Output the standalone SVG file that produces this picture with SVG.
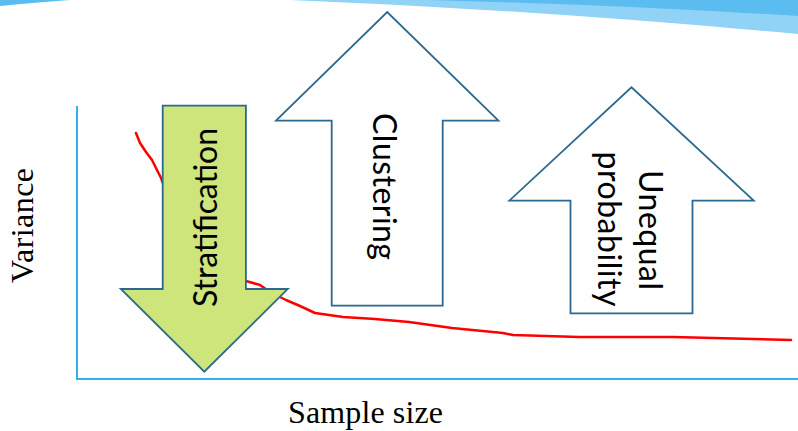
<svg xmlns="http://www.w3.org/2000/svg" width="798" height="431" viewBox="0 0 798 431">
  <style>
    .arrow { stroke: #2b6990; stroke-width: 1.8; stroke-linejoin: miter; }
    .white { fill: #ffffff; }
    .green { fill: #cde57b; }
    .lbl { font-family: Lato, "Noto Sans", "DejaVu Sans", sans-serif; font-size: 32px; fill: #000000; text-anchor: middle; }
    .axislbl { font-family: "Liberation Serif", "Times New Roman", serif; font-size: 32px; fill: #000000; }
    .axis { stroke: #33b1ec; stroke-width: 2; fill: none; }
    .curve { stroke: #ff0000; stroke-width: 2.5; fill: none; stroke-linejoin: round; stroke-linecap: round; }
  </style>
  <rect width="798" height="431" fill="#ffffff"/>
  <g id="banner">
    <path d="M0,0 L70,0 Q30,3 0,6 Z" fill="#5bbcf0"/>
    <path d="M290,0 Q540,10 798,34 L798,0 Z" fill="#90d3f7"/>
    <path d="M430,0 Q620,5 798,16 L798,0 Z" fill="#5bbcf0"/>
  </g>
  <g id="chart">
    <polyline class="curve" points="136,133 140,143 146,152 152,160 157,170 161,178 175,215 192,250 220,272 246,281 260,285 270,292 286,300 300,306 315,313 343,317 375,319 409,322 452,328 503,333 513,335 579,337 673,337 791,340"/>
    <polyline class="axis" points="77,106 77,379 798,379"/>
  </g>
  <g id="clustering">
    <polygon class="arrow white" points="331.7,305.7 442.7,305.7 442.7,120.7 498.4,120.7 387.2,12 276,120.7 331.7,120.7"/>
    <text class="lbl" transform="translate(373.3,186.5) rotate(90)" x="0" y="0" textLength="147">Clustering</text>
  </g>
  <g id="unequal-probability">
    <polygon class="arrow white" points="570.5,313.3 692.5,313.3 692.5,200.7 753.7,200.7 631.5,87.3 509.3,200.7 570.5,200.7"/>
    <text class="lbl" transform="translate(639.3,230) rotate(90)" x="0" y="0" textLength="120">Unequal</text>
    <text class="lbl" transform="translate(598.3,229) rotate(90)" x="0" y="0" textLength="155">probability</text>
  </g>
  <g id="stratification">
    <polygon class="arrow green" points="162.7,105.7 245.9,105.7 245.9,289 287.8,289 204.3,371.7 120.8,289 162.7,289"/>
    <text class="lbl" transform="translate(216.7,217.5) rotate(-90)" x="0" y="0" textLength="179">Stratification</text>
  </g>
  <g id="labels">
    <text class="axislbl" transform="translate(33,225.5) rotate(-90)" x="0" y="0" text-anchor="middle" textLength="115">Variance</text>
    <text class="axislbl" x="288" y="423" textLength="155">Sample size</text>
  </g>
  <g id="connectors"/>
</svg>
